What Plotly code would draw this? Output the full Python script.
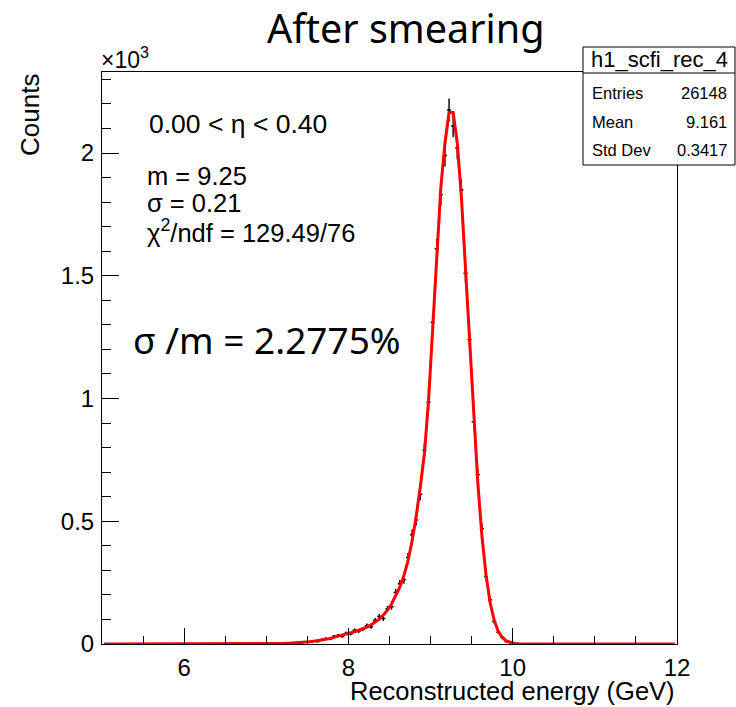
import math
import plotly.graph_objects as go

# ---------------- data ----------------
bin_low, bin_high, n_bins = 5.0, 12.0, 140

# histogram contents, listed from bin centre 7.325 to 10.075 (others empty)
first_center = 7.325
counts_nonzero = [
    3, 6, 5, 9, 8, 13, 10, 17, 22, 20,
    31, 35, 31, 44, 41, 56, 52, 60, 75, 70,
    96, 112, 104, 143, 152, 210, 245, 262, 352, 445,
    505, 610, 790, 985, 1310, 1610, 1830, 1990, 2175, 2110,
    2020, 1850, 1510, 1240, 905, 690, 470, 275, 180, 92,
    48, 27, 10, 5, 2, 1,
]

# fit curve, listed from bin centre 6.825 to 10.125 (zero elsewhere)
fit_first_center = 6.825
fit_nonzero = [
    0.5, 0.6, 0.8, 1.0, 1.2, 1.5, 1.8, 2.2, 2.7, 3.3,
    4.0, 5.0, 6.0, 7.5, 9, 11, 13, 16, 19, 23,
    27, 31, 35, 40, 45, 50, 56, 62, 69, 78,
    88, 101, 118, 138, 163, 195, 232, 278, 338, 420,
    520, 640, 775, 990, 1270, 1600, 1860, 2040, 2165, 2165,
    2040, 1822, 1537, 1225, 923, 657, 441, 281, 168, 96,
    51, 26, 12, 6, 2.3, 1, 0.4,
]

y_tick_vals = [0, 500, 1000, 1500, 2000]
y_tick_text = ["0", "0.5", "1", "1.5", "2"]

stats_name = "h1_scfi_rec_4"
stats_rows = [("Entries", "26148"), ("Mean", "9.161"), ("Std Dev", "0.3417")]
eta_text = "0.00 < η < 0.40"
fit_texts = ["m = 9.25", "σ = 0.21", "χ<sup>2</sup>/ndf = 129.49/76"]
ratio_text = "σ /m = 2.2775%"

# ---------------- build arrays ----------------
bw = (bin_high - bin_low) / n_bins
centers = [bin_low + bw * (i + 0.5) for i in range(n_bins)]

def fill(first, vals):
    out = [0.0] * n_bins
    start = int(round((first - bin_low) / bw - 0.5))
    for k, v in enumerate(vals):
        out[start + k] = v
    return out

counts = fill(first_center, counts_nonzero)
fit = fill(fit_first_center, fit_nonzero)

dx = [c for c, v in zip(centers, counts) if v > 0]
dy = [v for v in counts if v > 0]
derr = [math.sqrt(v) for v in dy]

FONT = "Liberation Sans, Arial, Helvetica, sans-serif"

fig = go.Figure()
fig.add_trace(go.Scatter(
    x=dx, y=dy, mode="markers",
    marker=dict(size=2, color="black"),
    error_y=dict(type="data", array=derr, width=0, thickness=1.4, color="black"),
    error_x=dict(type="constant", value=bw / 2, width=0, thickness=1.4, color="black"),
    showlegend=False, hoverinfo="skip",
))
fig.add_trace(go.Scatter(
    x=centers, y=fit, mode="lines",
    line=dict(color="red", width=3),
    showlegend=False, hoverinfo="skip",
))

L, R, T, B = 102, 677, 72, 644
fig.update_layout(
    width=736, height=707,
    margin=dict(l=L, r=736 - R, t=T, b=707 - B),
    paper_bgcolor="white", plot_bgcolor="white",
    font=dict(family=FONT, color="black"),
    xaxis=dict(
        range=[bin_low, bin_high], tick0=6, dtick=2,
        ticks="inside", ticklen=16, tickwidth=1, tickcolor="black",
        showline=True, linecolor="black", linewidth=1, mirror=True,
        showgrid=False, zeroline=False,
        tickfont=dict(size=24, family=FONT),
        minor=dict(dtick=0.5, ticks="inside", ticklen=8, tickcolor="black", showgrid=False),
        ticklabelstandoff=2,
    ),
    yaxis=dict(
        range=[0, 2330], tickvals=y_tick_vals, ticktext=y_tick_text,
        ticks="inside", ticklen=17, tickwidth=1, tickcolor="black",
        showline=True, linecolor="black", linewidth=1, mirror=True,
        showgrid=False, zeroline=False,
        tickfont=dict(size=24, family=FONT),
        minor=dict(dtick=100, ticks="inside", ticklen=9, tickcolor="black", showgrid=False),
        ticklabelstandoff=2,
    ),
)

def px(x):
    return (x - L) / (R - L)
def py(y):
    return (B - y) / (B - T)

ann = []
ann.append(dict(text="After smearing", x=px(405), y=py(28), xref="paper", yref="paper",
                showarrow=False, xanchor="center", yanchor="middle",
                font=dict(family="Noto Sans", size=39.5)))
ann.append(dict(text="×10<sup>3</sup>", x=px(99), y=py(58), xref="paper", yref="paper",
                showarrow=False, xanchor="left", yanchor="middle", font=dict(size=23)))
ann.append(dict(text="Counts", x=px(30), y=py(72), xref="paper", yref="paper",
                showarrow=False, xanchor="center", yanchor="top", textangle=-90,
                font=dict(size=26)))
ann.append(dict(text="Reconstructed energy (GeV)", x=px(677), y=py(691), xref="paper", yref="paper",
                showarrow=False, xanchor="right", yanchor="middle", font=dict(size=25.5)))
ann.append(dict(text=eta_text, x=px(147), y=py(124), xref="paper", yref="paper",
                showarrow=False, xanchor="left", yanchor="middle", font=dict(size=26.5)))
for t, yy in zip(fit_texts, [176, 203, 231]):
    ann.append(dict(text=t, x=px(145), y=py(yy), xref="paper", yref="paper",
                    showarrow=False, xanchor="left", yanchor="middle", font=dict(size=25.5)))
ann.append(dict(text=ratio_text, x=px(131), y=py(339), xref="paper", yref="paper",
                showarrow=False, xanchor="left", yanchor="middle",
                font=dict(family="Noto Sans", size=37)))

# stats box
bx0, bx1, by0, by1, byh = 583, 735, 47, 165, 73
fig.add_shape(type="rect", xref="paper", yref="paper",
              x0=px(bx0), x1=px(bx1), y0=py(by1), y1=py(by0),
              line=dict(color="black", width=1), fillcolor="white", layer="above")
fig.add_shape(type="line", xref="paper", yref="paper",
              x0=px(bx0), x1=px(bx1), y0=py(byh), y1=py(byh),
              line=dict(color="black", width=1), layer="above")
ann.append(dict(text=stats_name, x=px((bx0 + bx1) / 2), y=py(60), xref="paper", yref="paper",
                showarrow=False, xanchor="center", yanchor="middle", font=dict(size=22)))
for (lab, val), yy in zip(stats_rows, [93, 122, 150]):
    ann.append(dict(text=lab, x=px(590), y=py(yy), xref="paper", yref="paper",
                    showarrow=False, xanchor="left", yanchor="middle", font=dict(size=16.5)))
    ann.append(dict(text=val, x=px(729), y=py(yy), xref="paper", yref="paper",
                    showarrow=False, xanchor="right", yanchor="middle", font=dict(size=16.5)))

fig.update_layout(annotations=ann)
fig.write_html("out.html", config={"displayModeBar": False},
               post_script="document.body.style.margin='0';document.body.style.overflow='hidden';")
